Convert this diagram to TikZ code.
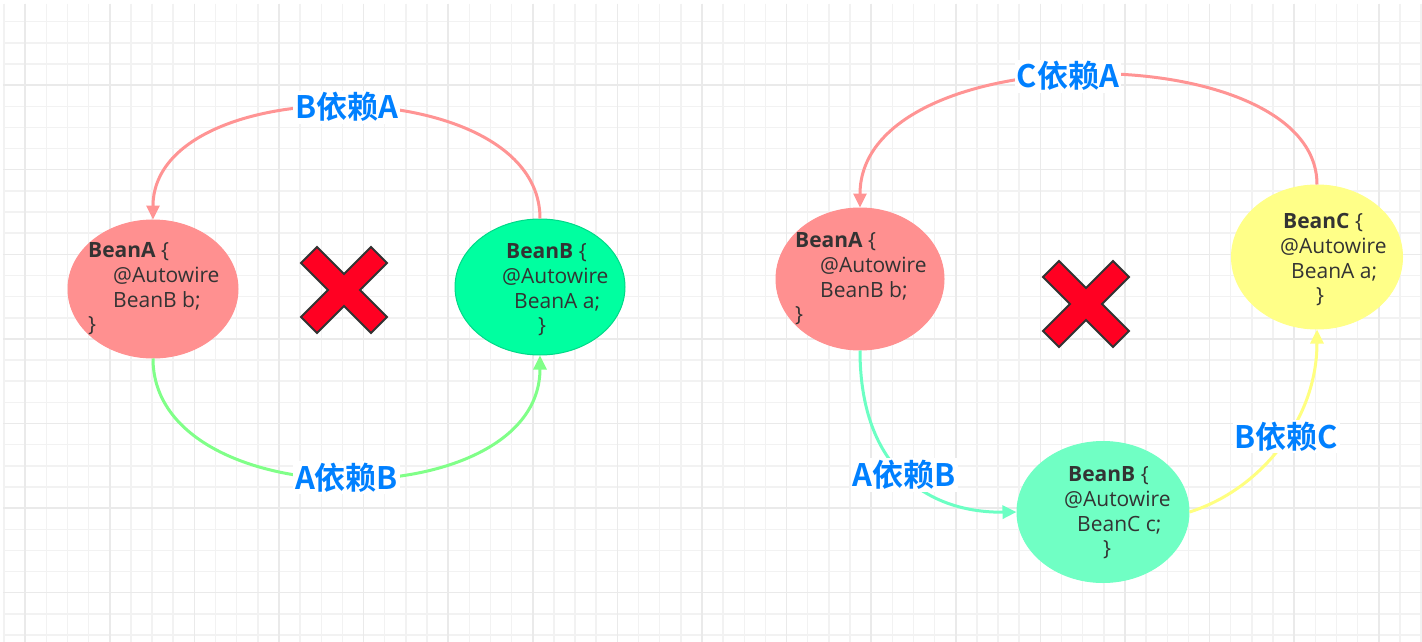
\documentclass[tikz,border=0pt]{standalone}
\usepackage{fontspec}
\setmainfont{Open Sans}
\newfontfamily\cjk{Noto Sans CJK SC}[BoldFont={Noto Sans CJK SC Bold}]
\usetikzlibrary{shapes.geometric,arrows.meta}

\definecolor{gridminor}{HTML}{F2F2F2}
\definecolor{gridmajor}{HTML}{EAEAEA}
\definecolor{pinkline}{HTML}{FF9494}
\definecolor{greenline}{HTML}{80FF88}
\definecolor{aqualine}{HTML}{6CFFC4}
\definecolor{yellowline}{HTML}{FFFF80}
\definecolor{fillA}{HTML}{FF9090}
\definecolor{fillB}{HTML}{00FFA0}
\definecolor{fillBB}{HTML}{70FFC4}
\definecolor{fillC}{HTML}{FFFF88}
\definecolor{codegray}{HTML}{333333}
\definecolor{depblue}{HTML}{0080FF}
\definecolor{crossred}{HTML}{FF0022}

\tikzset{
  bean/.style={ellipse, inner sep=0pt, line width=1pt},
  code/.style={inner sep=0pt, align=left, anchor=west, text=codegray,
    font=\fontsize{21}{24.7}\selectfont},
  dep/.style={fill=white, inner sep=2pt, text=depblue,
    font=\cjk\bfseries\fontsize{31}{31}\selectfont},
  link/.style={line width=3pt, -{Triangle[length=14pt,width=13pt]}},
  nogo/.style={fill=crossred, draw=codegray, line width=2pt, line join=miter}
}

\begin{document}
\begin{tikzpicture}[x=1pt, y=-1pt]
    \useasboundingbox (0,0) rectangle (1422,642);
    \fill[white] (0,0) rectangle (1422,642);
    % Background grid
    \foreach \g in {0,...,67} \draw[gridminor, line width=1.5pt] ({4+21.15*\g},4) -- ({4+21.15*\g},642);
    \foreach \g in {1,...,30} \draw[gridminor, line width=1.5pt] (3,{0.5+21.15*\g}) -- (1422,{0.5+21.15*\g});
    \foreach \g in {1,5,...,65} \draw[gridmajor, line width=1.5pt] ({4+21.15*\g},4) -- ({4+21.15*\g},642);
    \foreach \g in {4,8,...,28} \draw[gridmajor, line width=1.5pt] (3,{0.5+21.15*\g}) -- (1422,{0.5+21.15*\g});

    % Left cycle: two beans
    \node[bean, fill=fillA, draw=fillA, minimum width=170pt, minimum height=138pt] (bA) at (153,289) {};
    \node[bean, fill=fillB, draw=fillB!85!black, minimum width=170pt, minimum height=136pt] (bB) at (540,287) {};
    \node[code] (bAtxt) at (88,289) {\textbf{BeanA} \{\\ \hspace*{25pt}@Autowire\\ \hspace*{25pt}BeanB b;\\ \}};
    \node[code] (bBtxt) at (502,290) {\hspace*{4pt}\textbf{BeanB} \{\\ @Autowire\\ \hspace*{12pt}BeanA a;\\ \hspace*{36pt}\}};

    % Right cycle: three beans
    \node[bean, fill=fillA, draw=fillA, minimum width=168pt, minimum height=142pt] (rA) at (860,279) {};
    \node[bean, fill=fillBB, draw=fillBB, minimum width=172pt, minimum height=141pt] (rB) at (1103,512) {};
    \node[bean, fill=fillC, draw=fillC, minimum width=171pt, minimum height=144pt] (rC) at (1317,257) {};
    \node[code] (rAtxt) at (795,279) {\textbf{BeanA} \{\\ \hspace*{25pt}@Autowire\\ \hspace*{25pt}BeanB b;\\ \}};
    \node[code] (rBtxt) at (1064,513) {\hspace*{4pt}\textbf{BeanB} \{\\ @Autowire\\ \hspace*{13pt}BeanC c;\\ \hspace*{39pt}\}};
    \node[code] (rCtxt) at (1280,260) {\hspace*{3pt}\textbf{BeanC} \{\\ @Autowire\\ \hspace*{11pt}BeanA a;\\ \hspace*{36pt}\}};

    % Dependencies
    \draw[link, pinkline] (bB.north) .. controls (540,70) and (153,70) .. (bA.north)
        node[dep, pos=0.5] (lBA) {B依赖A};
    \draw[link, greenline] (bA.south) .. controls (153,518) and (540,518) .. (bB.south)
        node[dep, pos=0.5] (lAB) {A依赖B};
    \draw[link, pinkline] (rC.north) .. controls (1317,35) and (860,35) .. (rA.north)
        node[dep, pos=0.53] (lCA) {C依赖A};
    \draw[link, aqualine] (rA.south) .. controls (860,470) and (930,513) .. (rB.west)
        node[dep, pos=0.49] (rAB) {A依赖B};
    \draw[link, yellowline] (rB.east) .. controls (1260,490) and (1317,420) .. (rC.south)
        node[dep, pos=0.55] (rBC) {B依赖C};

    % Not allowed
    \foreach \cx/\cy in {344/290, 1086/304}
        \draw[nogo, shift={(\cx,\cy)}] (0,-16) -- (27,-43) -- (43,-27) -- (16,0) -- (43,27) -- (27,43)
            -- (0,16) -- (-27,43) -- (-43,27) -- (-16,0) -- (-43,-27) -- (-27,-43) -- cycle;
\end{tikzpicture}
\end{document}
